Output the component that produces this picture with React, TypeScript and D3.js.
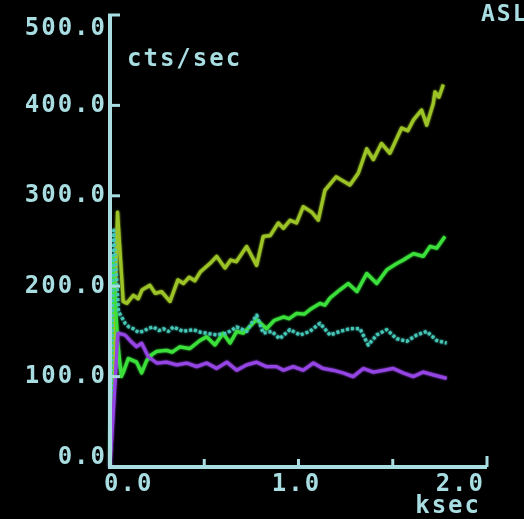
import React from 'react';
import * as d3 from 'd3';

// readings off the screen, [ksec, cts/sec]
const olive: [number, number][] = [
  [0, 0], [0.04, 282], [0.07, 183], [0.089, 181], [0.124, 190], [0.15, 186], [0.17, 196], [0.212, 201],
  [0.24, 192], [0.274, 194], [0.318, 183], [0.36, 207], [0.39, 203], [0.42, 210], [0.45, 206], [0.48, 216],
  [0.53, 225], [0.566, 233], [0.61, 220], [0.64, 229], [0.67, 227], [0.725, 244], [0.778, 223],
  [0.813, 255], [0.85, 256], [0.893, 270], [0.92, 264], [0.955, 273], [0.99, 270], [1.025, 288],
  [1.07, 282], [1.105, 273], [1.14, 306], [1.2, 321], [1.24, 316], [1.273, 312], [1.317, 325],
  [1.362, 352], [1.397, 340], [1.44, 358], [1.485, 347], [1.547, 375], [1.58, 372], [1.61, 384],
  [1.653, 395], [1.68, 378], [1.715, 402], [1.724, 415], [1.745, 409], [1.768, 423]
];
const green: [number, number][] = [
  [0, 0], [0.015, 232], [0.04, 140], [0.06, 100], [0.071, 105], [0.097, 120], [0.141, 116],
  [0.168, 104], [0.195, 118], [0.22, 124], [0.248, 128], [0.3, 129], [0.33, 127], [0.371, 133],
  [0.424, 131], [0.477, 140], [0.513, 144], [0.557, 135], [0.6, 148], [0.637, 137], [0.672, 150],
  [0.707, 148], [0.74, 155], [0.778, 163], [0.831, 153], [0.87, 162], [0.92, 166], [0.95, 164],
  [0.99, 170], [1.03, 169], [1.06, 174], [1.114, 181], [1.14, 179], [1.167, 187], [1.22, 196],
  [1.264, 203], [1.31, 194], [1.362, 214], [1.415, 203], [1.468, 218], [1.52, 225], [1.556, 229],
  [1.61, 236], [1.662, 233], [1.698, 244], [1.733, 242], [1.777, 255]
];
const cyan: [number, number][] = [
  [0, 0], [0.02, 262], [0.045, 172], [0.08, 159], [0.1, 155], [0.124, 153], [0.15, 149], [0.177, 150],
  [0.2, 153], [0.23, 155], [0.26, 151], [0.283, 153], [0.31, 150], [0.336, 155], [0.389, 150],
  [0.442, 152], [0.48, 149], [0.513, 148], [0.566, 146], [0.62, 148], [0.672, 155], [0.725, 150],
  [0.778, 168], [0.813, 148], [0.858, 150], [0.9, 142], [0.955, 152], [1.008, 146], [1.06, 150],
  [1.114, 159], [1.167, 146], [1.22, 150], [1.273, 153], [1.326, 153], [1.37, 135], [1.415, 146],
  [1.468, 152], [1.52, 142], [1.574, 139], [1.627, 146], [1.68, 150], [1.733, 140], [1.786, 137]
];
const purple: [number, number][] = [
  [0, 0], [0.042, 148], [0.08, 146], [0.106, 140], [0.141, 133], [0.168, 137], [0.203, 122],
  [0.248, 115], [0.3, 116], [0.354, 113], [0.407, 115], [0.46, 111], [0.513, 115], [0.566, 109],
  [0.62, 116], [0.672, 107], [0.725, 113], [0.778, 116], [0.831, 111], [0.884, 111], [0.92, 107],
  [0.972, 111], [1.025, 107], [1.078, 115], [1.13, 109], [1.185, 107], [1.238, 104], [1.29, 100],
  [1.344, 109], [1.397, 105], [1.45, 107], [1.503, 109], [1.556, 104], [1.61, 100], [1.662, 105],
  [1.715, 102], [1.786, 98]
];

const yTicks = [0, 100, 200, 300, 400, 500];
const xTicks = [0, 0.5, 1, 1.5, 2];
const xLabels = [0, 1, 2];

const ink = '#a8dde2';
const font = '"DejaVu Sans Mono", monospace';

const App = () => {
  const x = d3.scaleLinear().domain([0, 2]).range([110, 487]);
  const y = d3.scaleLinear().domain([0, 500]).range([467, 15]);

  const line = d3.line<[number, number]>()
    .x(d => x(d[0]))
    .y(d => y(d[1]));

  const series = [
    { data: olive, color: '#9cc426', dash: undefined },
    { data: green, color: '#3ae03a', dash: undefined },
    { data: cyan, color: '#45c8b8', dash: '3 2' },
    { data: purple, color: '#9444e4', dash: undefined },
  ];

  const txt = { fontFamily: font, fontWeight: 'bold' as const, fontSize: 24, letterSpacing: 2, fill: ink };

  return (
    <div>
      <style>{'body{margin:0;background:#000}'}</style>
      <svg width={524} height={519} style={{ display: 'block', background: '#000' }}>
        <defs>
          <filter id="glow" x="-10%" y="-10%" width="120%" height="120%">
            <feGaussianBlur stdDeviation="1.3" result="b" />
            <feMerge>
              <feMergeNode in="b" />
              <feMergeNode in="SourceGraphic" />
            </feMerge>
          </filter>
          <filter id="soft">
            <feGaussianBlur stdDeviation="0.6" />
          </filter>
        </defs>

        <g filter="url(#glow)">
          {series.map((s, i) => (
            <path key={i} d={line(s.data) || ''} fill="none" stroke={s.color}
              strokeWidth={3.3} strokeDasharray={s.dash} strokeLinejoin="round" />
          ))}
        </g>

        <g filter="url(#soft)">
          {/* axes */}
          <line x1={x(0)} x2={x(0)} y1={y(0) + 2} y2={y(500)} stroke={ink} strokeWidth={4} />
          <line x1={x(0)} x2={x(2)} y1={y(0)} y2={y(0)} stroke={ink} strokeWidth={4} />
          {yTicks.filter(v => v > 0).map(v => (
            <line key={v} x1={x(0) - 2} x2={x(0) + 10} y1={y(v)} y2={y(v)} stroke={ink} strokeWidth={3} />
          ))}
          {xTicks.filter(v => v > 0).map(v => (
            <line key={v} x1={x(v)} x2={x(v)} y1={y(0)} y2={y(0) - (v === 2 ? 11 : 8)} stroke={ink} strokeWidth={3} />
          ))}

          {yTicks.map(v => {
            const off = v === 500 ? 11 : v === 0 ? -12 : -2;
            return (
              <text key={v} x={x(0) - 3} y={y(v) + off} dy="0.36em" textAnchor="end" {...txt}>
                {v.toFixed(1)}
              </text>
            );
          })}
          {xLabels.map(v => (
            <text key={v} x={v === 0 ? x(v) - 6 : x(v) - 2} y={491}
              textAnchor={v === 0 ? 'start' : v === 2 ? 'end' : 'middle'} {...txt}>
              {v.toFixed(1)}
            </text>
          ))}
          <text x={481} y={513} textAnchor="end" {...txt}>ksec</text>
          <text x={127} y={66} {...txt}>cts/sec</text>
          <text x={481} y={21} {...txt} fontSize={23}>ASL</text>
        </g>
      </svg>
    </div>
  );
};

export default App;
